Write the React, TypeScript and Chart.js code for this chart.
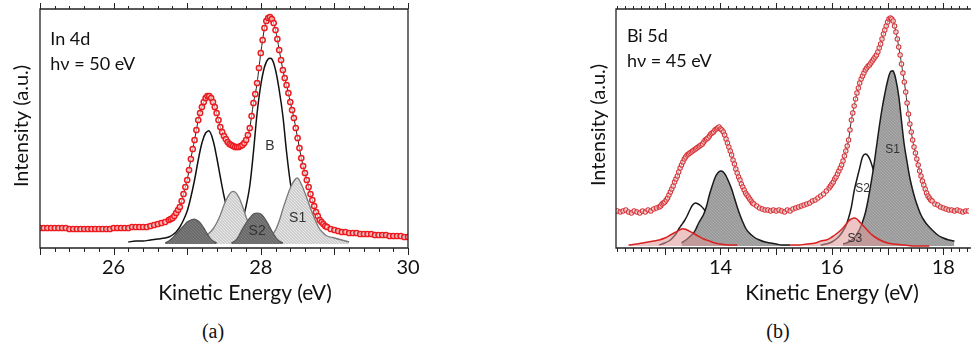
import React, { useEffect, useRef } from "react";
import { Chart, registerables } from "chart.js";

Chart.register(...registerables);

// ---------------- Panel (a): In 4d, hν = 50 eV ----------------
// measured spectrum: [kinetic energy (eV), intensity (a.u.)]
const aSpectrum: [number, number][] = [
  [25.0, 20], [25.05, 20], [25.1, 20], [25.15, 20], [25.2, 20], [25.25, 20], [25.3, 20], [25.35, 20], [25.4, 19], [25.45, 19],
  [25.5, 19], [25.55, 19], [25.6, 19], [25.65, 19], [25.7, 19], [25.75, 19], [25.8, 19], [25.85, 19], [25.9, 19], [25.95, 19],
  [26.0, 20], [26.05, 20], [26.1, 20], [26.15, 20], [26.2, 20], [26.25, 21], [26.3, 21], [26.35, 21], [26.4, 21], [26.45, 21],
  [26.5, 22], [26.55, 23], [26.6, 24], [26.65, 25], [26.7, 26], [26.75, 28],
  [26.775, 29], [26.8, 30], [26.825, 32], [26.85, 35], [26.875, 38], [26.9, 41], [26.925, 47], [26.95, 54], [26.975, 61], [27.0, 68],
  [27.025, 78], [27.05, 89], [27.075, 99], [27.1, 108], [27.125, 118], [27.15, 128], [27.175, 135], [27.2, 141], [27.225, 146], [27.25, 150],
  [27.275, 152], [27.3, 152], [27.325, 150], [27.35, 146], [27.375, 141], [27.4, 135], [27.425, 128], [27.45, 121], [27.475, 116], [27.5, 112],
  [27.525, 109], [27.55, 106], [27.575, 104], [27.6, 103], [27.625, 102], [27.65, 101], [27.675, 101], [27.7, 101], [27.725, 102], [27.75, 103],
  [27.775, 105], [27.8, 108], [27.825, 113], [27.85, 120], [27.875, 132], [27.9, 145], [27.925, 154], [27.95, 165], [27.975, 180], [28.0, 195],
  [28.025, 208], [28.05, 220], [28.075, 227], [28.1, 230], [28.125, 231], [28.15, 229], [28.175, 225], [28.2, 218], [28.225, 209], [28.25, 198],
  [28.275, 188], [28.3, 178], [28.325, 170], [28.35, 163], [28.375, 155], [28.4, 146], [28.425, 138], [28.45, 130], [28.475, 120], [28.5, 110],
  [28.525, 100], [28.55, 90], [28.575, 82], [28.6, 75], [28.625, 68], [28.65, 61], [28.675, 54], [28.7, 48], [28.725, 42], [28.75, 36],
  [28.775, 32], [28.8, 28], [28.825, 26], [28.85, 24], [28.875, 22], [28.9, 21],
  [28.95, 19], [29.0, 18], [29.05, 17], [29.1, 16], [29.15, 16], [29.2, 15], [29.25, 15], [29.3, 15], [29.35, 14], [29.4, 14],
  [29.45, 14], [29.5, 14], [29.55, 13], [29.6, 13], [29.65, 13], [29.7, 13], [29.75, 12], [29.8, 12], [29.85, 12], [29.9, 12],
  [29.95, 11], [30.0, 11],
];
// first spin-orbit component (black outline)
const aPeak1E = [26.2, 26.3, 26.4, 26.5, 26.6, 26.7, 26.75, 26.8, 26.85, 26.9, 26.95, 27.0, 27.05, 27.1, 27.15, 27.2, 27.25, 27.3, 27.35, 27.4, 27.45, 27.5, 27.55, 27.6, 27.65, 27.7, 27.8, 27.9, 28.0];
const aPeak1I = [6, 7, 7, 8, 9, 10, 11, 13, 16, 21, 28, 37, 51, 68, 88, 105, 115, 117, 108, 91, 71, 52, 37, 26, 18, 13, 9, 7, 6];
// bulk component B (black outline)
const aBulkE = [27.5, 27.6, 27.65, 27.7, 27.75, 27.8, 27.85, 27.9, 27.95, 28.0, 28.05, 28.1, 28.15, 28.2, 28.25, 28.3, 28.35, 28.4, 28.45, 28.5, 28.55, 28.6, 28.7, 28.8, 28.9];
const aBulkI = [8, 12, 16, 22, 28, 42, 62, 96, 135, 163, 181, 189, 189, 178, 158, 132, 96, 66, 45, 31, 22, 16, 10, 7, 6];
// light surface component near 27.6 eV
const aLightE = [27.0, 27.1, 27.2, 27.3, 27.35, 27.4, 27.45, 27.5, 27.55, 27.6, 27.65, 27.7, 27.75, 27.8, 27.85, 27.9, 27.95, 28.0, 28.05];
const aLightI = [5, 7, 10, 15, 19, 25, 33, 43, 51, 56, 56, 51, 42, 31, 22, 15, 10, 7, 5];
// S1 (light)
const aS1E = [28.0, 28.1, 28.15, 28.2, 28.25, 28.3, 28.35, 28.4, 28.45, 28.5, 28.55, 28.6, 28.65, 28.7, 28.75, 28.8, 28.85, 28.9, 29.0, 29.1, 29.2];
const aS1I = [6, 9, 13, 18, 27, 39, 50, 60, 67, 70, 64, 55, 45, 35, 26, 19, 15, 12, 10, 8, 6];
// dark component near 27.1 eV
const aDarkE = [26.7, 26.75, 26.8, 26.85, 26.9, 26.95, 27.0, 27.05, 27.1, 27.15, 27.2, 27.25, 27.3, 27.35, 27.4];
const aDarkI = [5, 7, 10, 14, 18, 22, 26, 28, 29, 27, 23, 17, 11, 7, 5];
// S2 (dark)
const aS2E = [27.6, 27.65, 27.7, 27.75, 27.8, 27.85, 27.9, 27.95, 28.0, 28.05, 28.1, 28.15, 28.2, 28.25, 28.3];
const aS2I = [5, 7, 12, 19, 25, 30, 34, 35, 34, 30, 24, 17, 11, 7, 5];
const aTickLabels = [26, 28, 30];

// ---------------- Panel (b): Bi 5d, hν = 45 eV ----------------
const bSpectrum: [number, number][] = [
  [12.15, 37], [12.2, 36], [12.25, 37], [12.3, 38], [12.35, 36], [12.4, 35], [12.45, 37], [12.5, 36], [12.55, 35], [12.6, 37],
  [12.65, 36], [12.7, 38], [12.75, 37], [12.8, 39], [12.85, 40],
  [12.9, 41], [12.925, 42], [12.95, 44], [12.975, 45], [13.0, 46], [13.025, 48], [13.05, 50], [13.075, 53], [13.1, 56], [13.125, 59],
  [13.15, 62], [13.175, 66], [13.2, 69], [13.225, 72], [13.25, 76], [13.275, 80], [13.3, 83], [13.325, 86], [13.35, 89], [13.375, 91],
  [13.4, 93], [13.425, 94], [13.45, 95], [13.475, 96], [13.5, 97], [13.525, 98], [13.55, 99], [13.575, 100], [13.6, 101], [13.625, 102],
  [13.65, 103], [13.675, 104], [13.7, 106], [13.725, 108], [13.75, 109], [13.775, 110], [13.8, 112], [13.825, 114], [13.85, 115], [13.875, 116],
  [13.9, 118], [13.925, 119], [13.95, 120], [13.975, 121], [14.0, 119], [14.025, 118], [14.05, 116], [14.075, 113], [14.1, 109], [14.125, 105],
  [14.15, 101], [14.175, 97], [14.2, 93], [14.225, 88], [14.25, 84], [14.275, 79], [14.3, 75], [14.325, 71], [14.35, 68], [14.375, 64],
  [14.4, 61], [14.425, 58], [14.45, 55], [14.475, 53], [14.5, 51], [14.525, 49], [14.55, 47], [14.575, 45], [14.6, 44],
  [14.65, 42], [14.7, 40], [14.75, 39], [14.8, 38], [14.85, 38], [14.9, 37], [14.95, 38], [15.0, 37], [15.05, 38], [15.1, 37],
  [15.15, 36], [15.2, 38], [15.25, 37], [15.3, 39], [15.35, 40], [15.4, 41], [15.45, 42], [15.5, 43], [15.55, 44], [15.6, 45],
  [15.65, 47], [15.7, 48], [15.75, 50], [15.8, 52], [15.85, 54], [15.9, 57],
  [15.95, 60], [15.975, 62], [16.0, 64], [16.025, 66], [16.05, 69], [16.075, 71], [16.1, 74], [16.125, 77], [16.15, 80], [16.175, 83],
  [16.2, 87], [16.225, 92], [16.25, 97], [16.275, 102], [16.3, 108], [16.325, 118], [16.35, 128], [16.375, 135], [16.4, 142], [16.425, 149],
  [16.45, 155], [16.475, 160], [16.5, 165], [16.525, 169], [16.55, 172], [16.575, 175], [16.6, 178], [16.625, 180], [16.65, 182], [16.675, 183],
  [16.7, 185], [16.725, 187], [16.75, 189], [16.775, 191], [16.8, 193], [16.825, 196], [16.85, 200], [16.875, 204], [16.9, 209], [16.925, 214],
  [16.95, 218], [16.975, 222], [17.0, 226], [17.025, 229], [17.05, 230], [17.075, 229], [17.1, 227], [17.125, 222], [17.15, 216], [17.175, 209],
  [17.2, 201], [17.225, 193], [17.25, 184], [17.275, 175], [17.3, 166], [17.325, 156], [17.35, 145], [17.375, 134], [17.4, 124], [17.425, 116],
  [17.45, 108], [17.475, 101], [17.5, 95], [17.525, 89], [17.55, 83], [17.575, 77], [17.6, 72], [17.625, 67], [17.65, 63], [17.675, 59],
  [17.7, 55], [17.725, 52], [17.75, 50], [17.775, 48], [17.8, 47],
  [17.85, 44], [17.9, 43], [17.95, 41], [18.0, 40], [18.05, 39], [18.1, 38], [18.15, 38], [18.2, 37], [18.25, 38], [18.3, 37],
  [18.35, 36], [18.4, 37], [18.45, 37],
];
// left group
const bWhite1E = [12.9, 13.0, 13.1, 13.2, 13.25, 13.3, 13.35, 13.4, 13.45, 13.5, 13.55, 13.6, 13.65, 13.7, 13.75, 13.8, 13.9, 14.0, 14.1, 14.2];
const bWhite1I = [3, 5, 8, 14, 19, 23, 27, 32, 38, 43, 45, 44, 42, 39, 35, 30, 20, 12, 7, 4];
const bGray1E = [13.3, 13.4, 13.5, 13.55, 13.6, 13.65, 13.7, 13.75, 13.8, 13.85, 13.9, 13.95, 14.0, 14.05, 14.1, 14.15, 14.2, 14.25, 14.3, 14.35, 14.4, 14.45, 14.5, 14.6, 14.7, 14.8, 14.9, 15.0, 15.1, 15.25];
const bGray1I = [5, 9, 14, 18, 24, 29, 34, 42, 53, 62, 70, 75, 77, 76, 72, 66, 59, 50, 41, 33, 26, 20, 16, 11, 8, 6, 5, 4, 3, 3];
const bRed1E = [12.35, 12.5, 12.6, 12.7, 12.8, 12.9, 13.0, 13.1, 13.2, 13.3, 13.35, 13.4, 13.5, 13.6, 13.7, 13.8, 13.9, 14.0, 14.15, 14.3];
const bRed1I = [3, 4, 5, 6, 7, 8, 10, 13, 16, 19, 19, 18, 15, 12, 9, 7, 5, 4, 3, 3];
// right group
const bS2E = [15.8, 15.9, 16.0, 16.1, 16.15, 16.2, 16.25, 16.3, 16.35, 16.4, 16.45, 16.5, 16.55, 16.6, 16.65, 16.7, 16.75, 16.8, 16.9, 17.0, 17.1, 17.2, 17.3, 17.4];
const bS2I = [3, 4, 6, 10, 13, 17, 22, 30, 41, 57, 69, 80, 91, 94, 92, 86, 77, 66, 45, 28, 16, 9, 5, 3];
const bS1E = [16.2, 16.3, 16.4, 16.45, 16.5, 16.55, 16.6, 16.65, 16.7, 16.75, 16.8, 16.85, 16.9, 16.95, 17.0, 17.05, 17.1, 17.15, 17.2, 17.25, 17.3, 17.35, 17.4, 17.45, 17.5, 17.55, 17.6, 17.65, 17.7, 17.8, 17.9, 18.0, 18.1, 18.2];
const bS1I = [4, 6, 10, 14, 19, 26, 35, 48, 64, 81, 101, 121, 139, 154, 167, 176, 177, 168, 152, 127, 103, 86, 70, 58, 48, 40, 33, 28, 24, 18, 13, 10, 8, 7];
const bS3E = [15.25, 15.4, 15.55, 15.7, 15.8, 15.9, 16.0, 16.1, 16.2, 16.3, 16.35, 16.4, 16.45, 16.5, 16.6, 16.7, 16.8, 16.9, 17.0, 17.1, 17.3, 17.5, 17.75];
const bS3I = [3, 3, 4, 5, 7, 8, 11, 15, 20, 27, 29, 30, 29, 26, 20, 14, 10, 7, 5, 4, 3, 2, 2];
const bTickLabels = [14, 16, 18];

type Note = { text: string; x: number; y: number; font: string; align: CanvasTextAlign };
type Deco = {
  minorPerUnit: number;
  tickLabels: number[];
  xTitle: string;
  xTitleX: number;
  yTitle: string;
  yTitleX: number;
  yTitleY: number;
  rightBorder: boolean;
  notes: Note[];
};

const AXIS_FONT = 'Lato, "Open Sans", sans-serif';
const LABEL_FONT = '"Liberation Sans", Arial, sans-serif';

function pts(xs: number[], ys: number[]) {
  return xs.map((x, i) => ({ x, y: ys[i] }));
}

function pairs(p: [number, number][]) {
  return p.map(([x, y]) => ({ x, y }));
}

function texture(bg: string, fg: string): CanvasPattern | string {
  const c = document.createElement("canvas");
  c.width = 3;
  c.height = 3;
  const g = c.getContext("2d");
  if (!g) return bg;
  g.fillStyle = bg;
  g.fillRect(0, 0, 3, 3);
  g.fillStyle = fg;
  g.fillRect(0, 0, 1, 1);
  g.fillRect(1, 1, 1, 1);
  g.fillRect(2, 2, 1, 1);
  return g.createPattern(c, "repeat") || bg;
}

function decoPlugin(d: Deco) {
  return {
    id: "deco",
    afterDraw(chart: any) {
      const { ctx, chartArea } = chart;
      const { left, right, top, bottom } = chartArea;
      const xs = chart.scales.x;
      const ys = chart.scales.y;
      ctx.save();
      // frame
      ctx.strokeStyle = "#222";
      ctx.lineWidth = 1.3;
      ctx.beginPath();
      if (d.rightBorder) {
        ctx.rect(left, top, right - left, bottom - top);
      } else {
        ctx.moveTo(right + 2, top);
        ctx.lineTo(left, top);
        ctx.lineTo(left, bottom);
        ctx.lineTo(right + 2, bottom);
      }
      ctx.stroke();
      // ticks
      const n = d.minorPerUnit;
      const k0 = Math.ceil(xs.min * n - 1e-6);
      const k1 = Math.floor(xs.max * n + 1e-6);
      ctx.lineWidth = 1;
      ctx.beginPath();
      for (let k = k0; k <= k1; k++) {
        const px = Math.round(xs.getPixelForValue(k / n)) + 0.5;
        const major = k % n === 0;
        ctx.moveTo(px, bottom);
        ctx.lineTo(px, bottom + (major ? 7 : 4));
        ctx.moveTo(px, top);
        ctx.lineTo(px, top - (major ? 6 : 3));
      }
      ctx.stroke();
      // tick labels
      ctx.fillStyle = "#111";
      ctx.textAlign = "center";
      ctx.textBaseline = "middle";
      ctx.font = `20px ${AXIS_FONT}`;
      for (const v of d.tickLabels) {
        ctx.fillText(String(v), xs.getPixelForValue(v), bottom + 20);
      }
      // axis titles
      ctx.font = `21px ${AXIS_FONT}`;
      ctx.fillText(d.xTitle, d.xTitleX, bottom + 45);
      ctx.font = `20px ${AXIS_FONT}`;
      ctx.save();
      ctx.translate(d.yTitleX, d.yTitleY);
      ctx.rotate(-Math.PI / 2);
      ctx.fillText(d.yTitle, 0, 0);
      ctx.restore();
      // in-plot notes
      ctx.textBaseline = "alphabetic";
      for (const nt of d.notes) {
        ctx.font = nt.font;
        ctx.textAlign = nt.align;
        ctx.fillStyle = nt.font.includes("Lato") ? "#111" : "#333";
        ctx.fillText(nt.text, xs.getPixelForValue(nt.x), ys.getPixelForValue(nt.y));
      }
      ctx.restore();
    },
  };
}

function curve(xs: number[], ys: number[], extra: any) {
  return {
    data: pts(xs, ys),
    showLine: true,
    pointRadius: 0,
    tension: 0.35,
    ...extra,
  };
}

function baseOptions(xMin: number, xMax: number, padding: any) {
  return {
    responsive: false,
    animation: false as const,
    events: [] as any[],
    layout: { padding },
    plugins: { legend: { display: false }, tooltip: { enabled: false } },
    scales: {
      x: { type: "linear" as const, min: xMin, max: xMax, display: false },
      y: { type: "linear" as const, min: 0, max: 239, display: false },
    },
  };
}

export default function App() {
  const aRef = useRef<HTMLCanvasElement | null>(null);
  const bRef = useRef<HTMLCanvasElement | null>(null);

  useEffect(() => {
    if (!aRef.current || !bRef.current) return;
    const lightA = texture("#cecece", "#e8e8e8");
    const darkA = texture("#6b6b6b", "#7d7d7d");
    const grayB = texture("#9a9a9a", "#ababab");

    const chartA = new Chart(aRef.current, {
      type: "scatter",
      data: {
        datasets: [
          curve(aPeak1E, aPeak1I, { borderColor: "#111", borderWidth: 1.5, fill: false, order: 7 }),
          curve(aBulkE, aBulkI, { borderColor: "#111", borderWidth: 1.5, fill: false, order: 6 }),
          curve(aLightE, aLightI, { borderColor: "#7a7a7a", borderWidth: 1.3, backgroundColor: lightA, fill: { value: 4 }, order: 5 }),
          curve(aS1E, aS1I, { borderColor: "#7a7a7a", borderWidth: 1.3, backgroundColor: lightA, fill: { value: 4 }, order: 4 }),
          curve(aDarkE, aDarkI, { borderColor: "#555", borderWidth: 1.2, backgroundColor: darkA, fill: { value: 4 }, order: 3 }),
          curve(aS2E, aS2I, { borderColor: "#555", borderWidth: 1.2, backgroundColor: darkA, fill: { value: 4 }, order: 2 }),
          {
            data: pairs(aSpectrum),
            showLine: true,
            borderColor: "#222",
            borderWidth: 1,
            tension: 0.3,
            pointRadius: 2.6,
            pointBorderWidth: 1.5,
            pointBorderColor: "#ec1b1f",
            pointBackgroundColor: "rgba(255,255,255,0.6)",
            fill: false,
            order: 0,
          },
        ],
      },
      options: baseOptions(25, 30, { left: 40, top: 9, right: 32, bottom: 64 }) as any,
      plugins: [
        decoPlugin({
          minorPerUnit: 5,
          tickLabels: aTickLabels,
          xTitle: "Kinetic Energy (eV)",
          xTitleX: 245,
          yTitle: "Intensity (a.u.)",
          yTitleX: 22,
          yTitleY: 126,
          rightBorder: true,
          notes: [
            { text: "In 4d", x: 25.14, y: 203, font: `18px ${AXIS_FONT}`, align: "left" },
            { text: "hν = 50 eV", x: 25.14, y: 178, font: `18px ${AXIS_FONT}`, align: "left" },
            { text: "B", x: 28.125, y: 98, font: `14px ${LABEL_FONT}`, align: "center" },
            { text: "S2", x: 27.95, y: 13, font: `14px ${LABEL_FONT}`, align: "center" },
            { text: "S1", x: 28.5, y: 26, font: `14px ${LABEL_FONT}`, align: "center" },
          ],
        }),
      ],
    });

    const chartB = new Chart(bRef.current, {
      type: "scatter",
      data: {
        datasets: [
          curve(bWhite1E, bWhite1I, { borderColor: "#1a1a1a", borderWidth: 1.5, fill: false, order: 8 }),
          curve(bGray1E, bGray1I, { borderColor: "#1a1a1a", borderWidth: 1.5, backgroundColor: grayB, fill: { value: 2 }, order: 7 }),
          curve(bRed1E, bRed1I, { borderColor: "#d82222", borderWidth: 1.5, backgroundColor: "rgba(222,150,150,0.55)", fill: { value: 2 }, order: 6 }),
          curve(bS2E, bS2I, { borderColor: "#1a1a1a", borderWidth: 1.5, fill: false, order: 5 }),
          curve(bS1E, bS1I, { borderColor: "#1a1a1a", borderWidth: 1.5, backgroundColor: grayB, fill: { value: 2 }, order: 4 }),
          curve(bS3E, bS3I, { borderColor: "#d82222", borderWidth: 1.5, backgroundColor: "rgba(222,150,150,0.55)", fill: { value: 2 }, order: 3 }),
          {
            data: pairs(bSpectrum),
            showLine: true,
            borderColor: "#333",
            borderWidth: 1,
            tension: 0.3,
            pointRadius: 2.2,
            pointBorderWidth: 1.1,
            pointBorderColor: "#d8353a",
            pointBackgroundColor: "rgba(255,255,255,0.6)",
            fill: false,
            order: 0,
          },
        ],
      },
      options: baseOptions(12.124, 18.46, { left: 38, top: 9, right: 0, bottom: 64 }) as any,
      plugins: [
        decoPlugin({
          minorPerUnit: 7,
          tickLabels: bTickLabels,
          xTitle: "Kinetic Energy (eV)",
          xTitleX: 254,
          yTitle: "Intensity (a.u.)",
          yTitleX: 21,
          yTitleY: 125,
          rightBorder: false,
          notes: [
            { text: "Bi 5d", x: 12.32, y: 206, font: `18px ${AXIS_FONT}`, align: "left" },
            { text: "hν = 45 eV", x: 12.32, y: 181, font: `18px ${AXIS_FONT}`, align: "left" },
            { text: "S1", x: 17.09, y: 95, font: `12px ${LABEL_FONT}`, align: "center" },
            { text: "S2", x: 16.55, y: 56, font: `12px ${LABEL_FONT}`, align: "center" },
            { text: "S3", x: 16.41, y: 6, font: `12px ${LABEL_FONT}`, align: "center" },
          ],
        }),
      ],
    });

    return () => {
      chartA.destroy();
      chartB.destroy();
    };
  }, []);

  const caption: React.CSSProperties = {
    position: "absolute",
    top: 319,
    width: 60,
    textAlign: "center",
    font: '20px "Liberation Serif", "Times New Roman", serif',
    lineHeight: "24px",
    color: "#111",
  };

  return (
    <div style={{ position: "fixed", left: 0, top: 0, width: 974, height: 351, background: "#fff", overflow: "hidden" }}>
      <div style={{ position: "absolute", left: 0, top: 0 }}>
        <canvas ref={aRef} width={440} height={312} style={{ display: "block" }} />
      </div>
      <div style={{ position: "absolute", left: 578, top: 0 }}>
        <canvas ref={bRef} width={396} height={312} style={{ display: "block" }} />
      </div>
      <div style={{ ...caption, left: 183 }}>(a)</div>
      <div style={{ ...caption, left: 748 }}>(b)</div>
    </div>
  );
}
